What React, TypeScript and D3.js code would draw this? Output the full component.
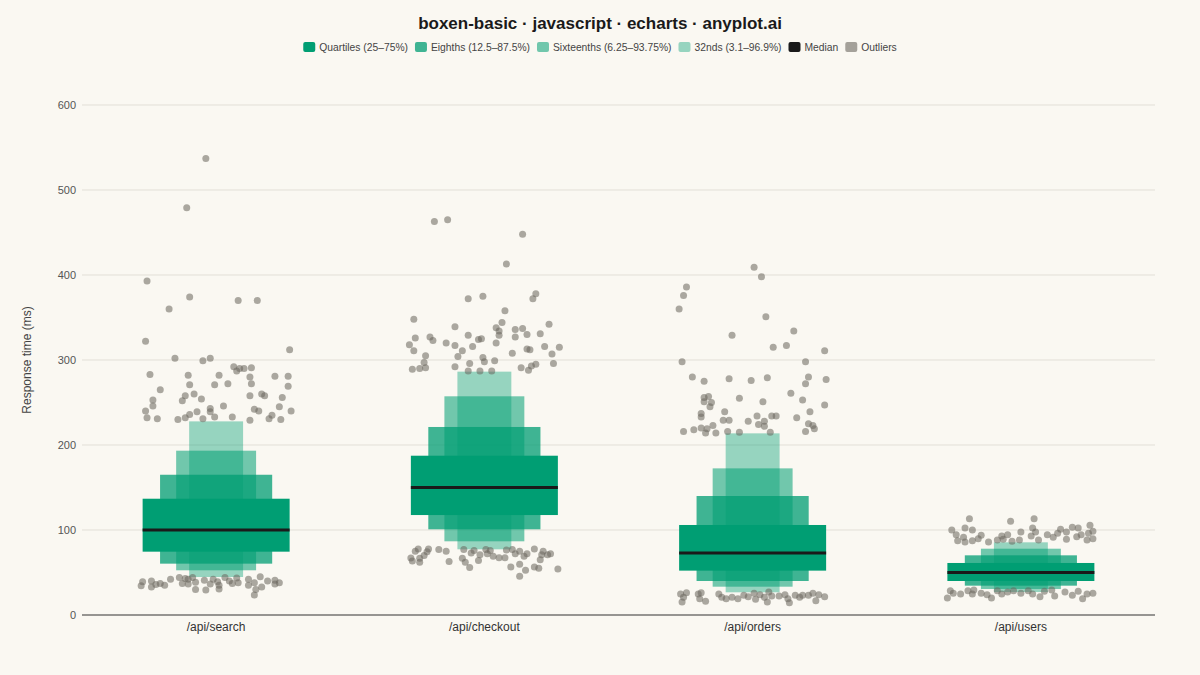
import React from 'react';
import * as d3 from 'd3';

// categorias y cuantiles (ms)
const categories = ['/api/search', '/api/checkout', '/api/orders', '/api/users'];
const medians = [100, 150, 73, 50];
const q25 = [74.5, 117.6, 52.2, 40];
const q75 = [136.8, 187.4, 105.9, 61.2];
const p125 = [60.4, 100.8, 40, 34.5];
const p875 = [165, 221.2, 140, 70.2];
const p625 = [52.6, 86.7, 33.3, 30.6];
const p9375 = [193.3, 257.3, 172.5, 78];
const p31 = [44.7, 77.3, 26.7, 27];
const p969 = [227.8, 286.3, 213.7, 85.5];
const yTicks = [0, 100, 200, 300, 400, 500, 600];

// outliers: [jitter (fraccion del ancho de caja), valor]
const outliersSearch: [number, number][] = [
  [-0.07, 537], [-0.2, 479], [-0.47, 393], [-0.18, 374], [0.15, 370], [0.28, 370], [-0.32, 360],
  [-0.48, 322], [0.5, 312], [-0.28, 302], [-0.09, 299], [-0.04, 302], [0.12, 292], [0.14, 287],
  [0.16, 290], [0.19, 290], [0.24, 291], [-0.45, 283], [-0.19, 282], [0.02, 282], [0.23, 280],
  [0.4, 281], [0.49, 281], [-0.18, 271], [-0.01, 271], [0.08, 272], [0.24, 272], [0.49, 269],
  [-0.38, 265], [-0.21, 258], [-0.15, 260], [0.23, 258], [0.31, 260], [0.33, 258], [-0.43, 253],
  [-0.23, 252], [-0.1, 254], [0.45, 256], [-0.43, 246], [0.05, 246], [0.43, 245], [-0.48, 240],
  [-0.04, 243], [0.26, 242], [0.29, 240], [0.51, 240], [-0.18, 236], [-0.13, 239], [-0.04, 239],
  [-0.01, 233], [0.11, 233], [0.38, 235], [-0.47, 232], [-0.4, 231], [-0.26, 230], [-0.21, 232],
  [-0.09, 231], [0.23, 229], [0.36, 231], [0.44, 230],
  [-0.5, 39], [-0.51, 34.5], [-0.44, 40], [-0.44, 33], [-0.41, 36], [-0.38, 37], [-0.35, 35],
  [-0.31, 42], [-0.25, 44], [-0.23, 37], [-0.21, 43], [-0.19, 42], [-0.19, 36.5], [-0.16, 44],
  [-0.14, 30], [-0.14, 38.5], [-0.08, 41], [-0.07, 29.4], [-0.04, 36.5], [-0.02, 42], [0.01, 39],
  [0.02, 30.6], [0.02, 35], [0.06, 44], [0.09, 40], [0.11, 37], [0.14, 43.5], [0.15, 38],
  [0.22, 42], [0.22, 35], [0.26, 38], [0.27, 30], [0.26, 23.5], [0.3, 45], [0.31, 33], [0.35, 40],
  [0.4, 41], [0.4, 36.5], [0.43, 38],
];
const outliersCheckout: [number, number][] = [
  [-0.34, 463], [-0.25, 465], [0.26, 448], [0.15, 413], [-0.11, 372], [-0.01, 375], [0.33, 372],
  [0.35, 378], [0.14, 358], [-0.48, 348], [0.12, 344], [-0.2, 339], [0.08, 338], [0.44, 342],
  [0.1, 334], [0.21, 336], [0.26, 337], [-0.47, 326], [-0.37, 327], [-0.35, 323], [-0.11, 329],
  [-0.04, 324], [-0.02, 325], [0.1, 329], [0.21, 327], [0.29, 330], [0.38, 331], [-0.51, 318],
  [-0.26, 320], [-0.2, 317], [-0.08, 316], [0.08, 320], [0.41, 316], [0.51, 315], [-0.48, 311],
  [-0.15, 311], [0.29, 313], [0.31, 312], [-0.4, 305], [-0.18, 304], [0.19, 308], [0.46, 307],
  [-0.01, 303], [-0.41, 297], [0.0, 298], [0.07, 299], [-0.1, 296], [0.47, 296], [0.35, 295],
  [-0.49, 289], [-0.44, 290], [-0.4, 291], [-0.2, 292], [-0.11, 287], [-0.03, 287], [0.05, 287],
  [0.25, 291], [0.3, 288], [0.32, 293],
  [-0.5, 67], [-0.49, 63.5], [-0.47, 75], [-0.45, 77.6], [-0.44, 62], [-0.44, 66.7], [-0.41, 70],
  [-0.39, 74.5], [-0.38, 77.6], [-0.31, 77], [-0.26, 75], [-0.24, 63], [-0.15, 66.7], [-0.14, 77],
  [-0.13, 62], [-0.1, 56], [-0.09, 73], [-0.07, 76], [-0.04, 64], [-0.03, 71], [0.01, 77], [0.02, 72],
  [0.04, 76], [0.06, 69], [0.1, 67.4], [0.14, 67.4], [0.15, 76.5], [0.18, 56.5], [0.19, 77],
  [0.21, 72], [0.24, 59.6], [0.24, 75], [0.27, 69], [0.28, 52.6], [0.24, 45.5], [0.29, 72],
  [0.34, 77.6], [0.34, 56.5], [0.37, 55], [0.38, 65], [0.39, 71], [0.4, 75], [0.43, 71], [0.45, 72],
  [0.5, 54],
];
const outliersOrders: [number, number][] = [
  [0.01, 409], [0.06, 398], [-0.45, 386], [-0.47, 376], [-0.5, 360], [0.09, 351], [0.28, 334],
  [-0.14, 329], [0.14, 315], [0.23, 317], [0.49, 311], [-0.48, 298], [0.36, 298], [-0.41, 280],
  [-0.33, 275], [-0.16, 278], [-0.01, 276], [0.1, 279], [0.38, 280], [0.5, 277], [0.36, 272],
  [0.26, 261], [-0.33, 256], [-0.3, 257], [-0.33, 251], [-0.28, 250], [-0.29, 245], [-0.09, 255],
  [0.07, 251], [0.34, 253], [0.49, 247], [-0.35, 237], [-0.35, 233], [-0.19, 239], [0.39, 239],
  [-0.2, 229], [-0.16, 229], [0.03, 234], [-0.03, 228], [0.08, 228], [0.13, 234], [0.16, 234],
  [0.3, 232], [0.04, 224], [0.08, 222], [0.38, 225], [0.41, 223], [0.42, 219], [-0.47, 216],
  [-0.4, 218], [-0.35, 220], [-0.31, 219], [-0.27, 223], [-0.32, 214], [-0.25, 214], [-0.17, 216],
  [-0.09, 215], [0.12, 215], [0.36, 216],
  [-0.49, 24.7], [-0.48, 15.3], [-0.47, 20.8], [-0.45, 26.3], [-0.37, 24.7], [-0.36, 19.2],
  [-0.35, 26.3], [-0.32, 16.1], [-0.23, 24.7], [-0.21, 20.8], [-0.18, 19.2], [-0.14, 20.8],
  [-0.1, 19.2], [-0.06, 23.1], [-0.03, 21.6], [0.01, 25.5], [0.02, 18.5], [0.05, 23.9], [0.08, 20.8],
  [0.1, 15.3], [0.11, 27.1], [0.13, 22.4], [0.18, 22.4], [0.22, 23.9], [0.24, 19.2], [0.25, 14.5],
  [0.29, 23.1], [0.32, 20.8], [0.34, 23.1], [0.38, 23.1], [0.41, 25.5], [0.43, 16.8], [0.45, 23.9],
  [0.49, 21.6],
];
const outliersUsers: [number, number][] = [
  [-0.35, 113.3], [0.09, 113.3], [-0.07, 110.2], [-0.47, 100], [-0.38, 102.4], [-0.33, 100],
  [0.08, 102.4], [0.1, 97.6], [0.0, 97.6], [0.27, 100.8], [0.35, 103.2], [0.39, 102.4], [0.47, 105.5],
  [0.49, 98.5], [-0.44, 94.5], [-0.27, 93.7], [-0.13, 92.9], [-0.09, 94.5], [0.07, 92.9], [0.18, 94.5],
  [0.25, 96.1], [0.31, 97.6], [0.41, 94.5], [0.46, 96.1], [-0.43, 87.4], [-0.38, 85.9], [-0.33, 87.4],
  [-0.29, 89.8], [-0.22, 85.9], [-0.16, 88.2], [-0.12, 89], [-0.06, 86.7], [-0.01, 88.2], [0.12, 88.2],
  [0.22, 91.4], [0.31, 89], [0.38, 92.1], [0.45, 88.2], [0.49, 89.8], [-0.39, 91.4],
  [-0.48, 28.6], [-0.5, 20], [-0.46, 25.5], [-0.41, 24.7], [-0.36, 28.6], [-0.33, 24.7], [-0.32, 29.4],
  [-0.27, 25.5], [-0.23, 23.9], [-0.2, 20], [-0.16, 28.6], [-0.13, 24.7], [-0.09, 27.1], [-0.05, 28.6],
  [0.0, 25.5], [0.05, 28.6], [0.08, 24.7], [0.13, 21.6], [0.16, 27.9], [0.21, 29.4], [0.23, 22.4],
  [0.3, 27.1], [0.35, 23.1], [0.39, 27.9], [0.42, 19.2], [0.45, 24.7], [0.49, 25.5],
];
const outliers = [outliersSearch, outliersCheckout, outliersOrders, outliersUsers];

const GREEN = '#009E73';
const FONT = '"Liberation Sans", Arial, Helvetica, sans-serif';
const BG = '#FAF8F2';

// niveles: de afuera hacia adentro
const levels = [
  { name: '32nds (3.1–96.9%)', lo: p31, hi: p969, widthFrac: 0.201, opacity: 0.4 },
  { name: 'Sixteenths (6.25–93.75%)', lo: p625, hi: p9375, widthFrac: 0.298, opacity: 0.55 },
  { name: 'Eighths (12.5–87.5%)', lo: p125, hi: p875, widthFrac: 0.418, opacity: 0.75 },
  { name: 'Quartiles (25–75%)', lo: q25, hi: q75, widthFrac: 0.548, opacity: 1 },
];

const legendItems = [
  { name: 'Quartiles (25–75%)', color: GREEN, opacity: 1 },
  { name: 'Eighths (12.5–87.5%)', color: GREEN, opacity: 0.75 },
  { name: 'Sixteenths (6.25–93.75%)', color: GREEN, opacity: 0.55 },
  { name: '32nds (3.1–96.9%)', color: GREEN, opacity: 0.4 },
  { name: 'Median', color: '#1a1a1a', opacity: 1 },
  { name: 'Outliers', color: '#8f8b83', opacity: 0.8 },
];

function measure(text: string, font: string) {
  const c = document.createElement('canvas').getContext('2d');
  if (!c) return text.length * 6;
  c.font = font;
  return c.measureText(text).width;
}

const App: React.FC = () => {
  const width = 1200;
  const height = 675;
  const marginLeft = 82;
  const marginRight = 45;
  const marginTop = 105;
  const marginBottom = 60;

  const x = d3.scaleBand().domain(categories).range([marginLeft, width - marginRight]).padding(0);
  const y = d3.scaleLinear().domain([0, 600]).range([height - marginBottom, marginTop]);
  const bw = x.bandwidth();
  const boxW = bw * 0.548;

  // leyenda
  const legendSize = 10.3;
  const legendFont = `${legendSize}px ${FONT}`;
  const sw = 12;
  const gapSw = 4;
  const gapItem = 7;
  const widths = legendItems.map((d) => sw + gapSw + measure(d.name, legendFont));
  const total = d3.sum(widths) + gapItem * (legendItems.length - 1);
  let lx = width / 2 - total / 2;
  const legendPos = widths.map((w) => {
    const p = lx;
    lx += w + gapItem;
    return p;
  });

  return (
    <svg
      width={width}
      height={height}
      style={{ position: 'absolute', left: 0, top: 0, display: 'block', background: BG }}
      fontFamily={FONT}
    >
      <rect width={width} height={height} fill={BG} />
      <text x={width / 2} y={28.5} textAnchor="middle" fontSize={17} fontWeight="bold" fill="#1a1a1a">
        boxen-basic · javascript · echarts · anyplot.ai
      </text>

      {legendItems.map((d, i) => (
        <g key={d.name} transform={`translate(${legendPos[i]},47)`}>
          <rect x={0} y={-5} width={sw} height={10} rx={2} fill={d.color} fillOpacity={d.opacity} />
          <text x={sw + gapSw} y={3.7} fontSize={legendSize} fill="#444">
            {d.name}
          </text>
        </g>
      ))}

      {/* grilla y eje y */}
      {yTicks.map((t) => (
        <g key={t}>
          {t > 0 && (
            <line x1={marginLeft} x2={width - marginRight} y1={y(t)} y2={y(t)} stroke="#e2dfd7" strokeWidth={1} />
          )}
          <text x={marginLeft - 6} y={y(t) + 4} textAnchor="end" fontSize={11} fill="#555">
            {t}
          </text>
        </g>
      ))}
      <text
        transform={`translate(31,${(y(0) + y(600)) / 2}) rotate(-90)`}
        textAnchor="middle"
        fontSize={12}
        fill="#444"
      >
        Response time (ms)
      </text>

      {/* cajas */}
      {categories.map((c, i) => {
        const cx = (x(c) || 0) + bw / 2;
        return (
          <g key={c}>
            {levels.map((lv) => (
              <rect
                key={lv.name}
                x={cx - (bw * lv.widthFrac) / 2}
                y={y(lv.hi[i])}
                width={bw * lv.widthFrac}
                height={y(lv.lo[i]) - y(lv.hi[i])}
                fill={GREEN}
                fillOpacity={lv.opacity}
              />
            ))}
            <line
              x1={cx - boxW / 2}
              x2={cx + boxW / 2}
              y1={y(medians[i])}
              y2={y(medians[i])}
              stroke="#1a1a1a"
              strokeWidth={3}
            />
            {outliers[i].map(([j, v], k) => (
              <circle key={k} cx={cx + j * boxW} cy={y(v)} r={3.5} fill="#6b675f" fillOpacity={0.56} />
            ))}
          </g>
        );
      })}

      {/* eje x */}
      <line x1={marginLeft} x2={width - marginRight} y1={y(0)} y2={y(0)} stroke="#333" strokeWidth={1} />
      {categories.map((c) => (
        <text key={c} x={(x(c) || 0) + bw / 2} y={y(0) + 16} textAnchor="middle" fontSize={12} fill="#333">
          {c}
        </text>
      ))}
    </svg>
  );
};

export default App;
